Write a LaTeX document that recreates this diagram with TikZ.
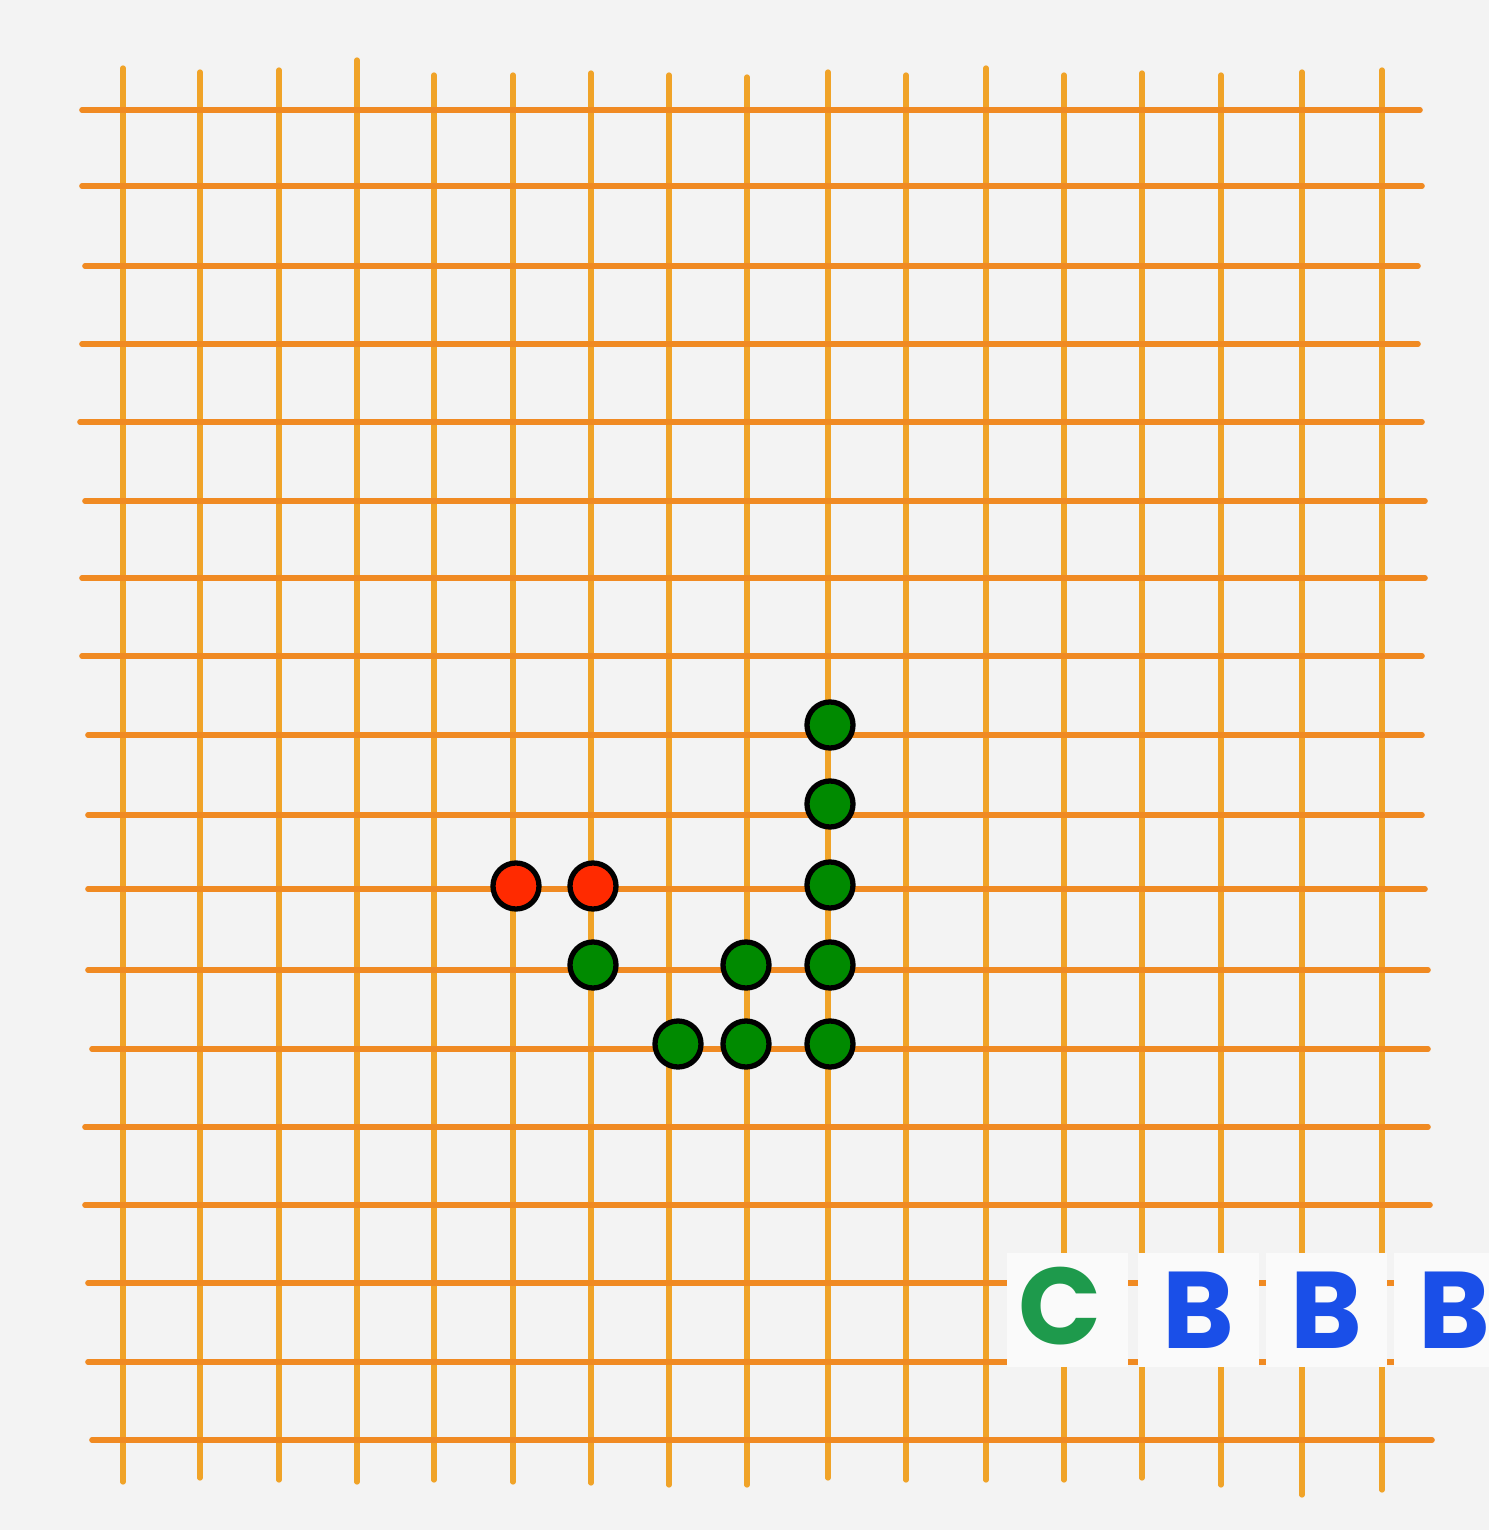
\documentclass[tikz,border=0pt]{standalone}
\usepackage{fontspec}
\newfontfamily\letterfont{Poppins}
\definecolor{paper}{HTML}{F3F3F3}
\definecolor{vline}{HTML}{F0A328}
\definecolor{hline}{HTML}{F08A22}
\definecolor{stonegreen}{HTML}{008A00}
\definecolor{stonered}{HTML}{FF2A00}
\definecolor{cgreen}{HTML}{1E9A4C}
\definecolor{bblue}{HTML}{1A4FE8}
\definecolor{card}{HTML}{FAFAFA}
\tikzset{
  vgrid/.style={draw=vline, line width=1.5pt, line cap=round},
  hgrid/.style={draw=hline, line width=1.6pt, line cap=round},
  stone/.style={circle, draw=black, line width=1.5pt, minimum size=0.46cm, inner sep=0pt},
  gstone/.style={stone, fill=stonegreen},
  rstone/.style={stone, fill=stonered},
  cardbox/.style={fill=card, draw=none},
  letter/.style={font=\letterfont\bfseries\fontsize{31}{31}\selectfont, inner sep=0pt},
}
\begin{document}
\begin{tikzpicture}[x=0.01cm, y=-0.01cm]
\useasboundingbox (0,0) rectangle (1489,1530);
\fill[paper] (0,0) rectangle (1489,1530);
% vertical lines: x / top / bottom
\foreach \x/\t/\b in {123/68/1482, 200/72/1478, 279/70/1480, 357/60/1482, 434/75/1480, 513/75/1482, 591/73/1483, 669/75/1485, 747/77/1485, 828/72/1478, 906/75/1480, 986/68/1480, 1064/75/1480, 1142/73/1478, 1221/75/1485, 1302/72/1495, 1382/70/1490}
  \draw[vgrid] (\x,\t) -- (\x,\b);
% horizontal lines: y / left / right
\foreach \y/\l/\r in {110/82/1420, 186/82/1422, 266/85/1418, 344/82/1418, 422/80/1422, 501/85/1425, 578/82/1425, 656/82/1422, 735/88/1422, 815/88/1422, 889/88/1425, 970/88/1428, 1049/92/1428, 1127/85/1428, 1205/85/1430, 1283/88/1428, 1362/88/1430, 1440/92/1432}
  \draw[hgrid] (\l,\y) -- (\r,\y);
% stones
\node[gstone] (g1) at (830,725) {};
\node[gstone] (g2) at (830,804) {};
\node[gstone] (g3) at (830,885) {};
\node[gstone] (g4) at (830,965) {};
\node[gstone] (g5) at (830,1044) {};
\node[gstone] (g6) at (593,965) {};
\node[gstone] (g7) at (746,965) {};
\node[gstone] (g8) at (746,1044) {};
\node[gstone] (g9) at (678,1044) {};
\node[rstone] (r1) at (516,886) {};
\node[rstone] (r2) at (593,886) {};
% cards with letters
\fill[cardbox] (1007,1253) rectangle (1128,1367);
\fill[cardbox] (1138,1253) rectangle (1259,1367);
\fill[cardbox] (1266,1253) rectangle (1387,1367);
\fill[cardbox] (1394,1253) rectangle (1489,1367);
\node[letter, text=cgreen] (c1) at (1060,1306) {C};
\node[letter, text=bblue] (b1) at (1198,1310) {B};
\node[letter, text=bblue] (b2) at (1326,1310) {B};
\node[letter, text=bblue] (b3) at (1454,1310) {B};
\end{tikzpicture}
\end{document}
